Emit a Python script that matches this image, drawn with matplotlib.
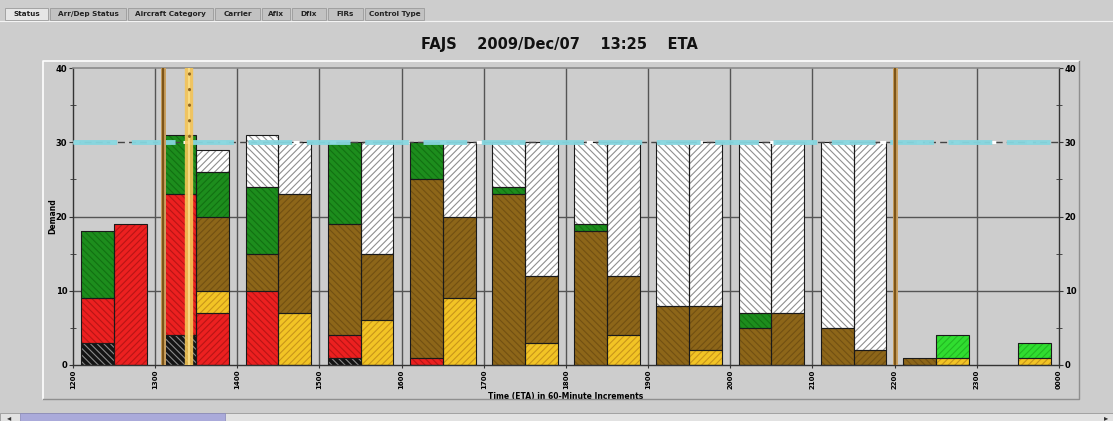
import matplotlib
matplotlib.use("Agg")
import matplotlib.pyplot as plt
from matplotlib.patches import Rectangle
from matplotlib.lines import Line2D
import numpy as np

plt.rcParams['font.family'] = ['DejaVu Sans']
plt.rcParams['hatch.linewidth'] = 0.8

# ---------------- data ----------------
hours = list(range(12, 24))
hour_labels = ["1200", "1300", "1400", "1500", "1600", "1700", "1800",
               "1900", "2000", "2100", "2200", "2300", "0000"]

# first bar of each hour (A) — stacked layers bottom to top
black_a  = [3, 4, 0, 1, 0, 0, 0, 0, 0, 0, 0, 0]
red_a    = [6, 19, 10, 3, 1, 0, 0, 0, 0, 0, 0, 0]
yellow_a = [0, 0, 0, 0, 0, 0, 0, 0, 0, 0, 0, 0]
brown_a  = [0, 0, 5, 15, 24, 23, 18, 8, 5, 5, 1, 0]
green_a  = [9, 8, 9, 11, 5, 1, 1, 0, 2, 0, 0, 0]
lgreen_a = [0, 0, 0, 0, 0, 0, 0, 0, 0, 0, 0, 0]
white_a  = [0, 0, 7, 0, 0, 6, 11, 22, 23, 25, 0, 0]

# second bar of each hour (B)
black_b  = [0, 0, 0, 0, 0, 0, 0, 0, 0, 0, 0, 0]
red_b    = [19, 7, 0, 0, 0, 0, 0, 0, 0, 0, 0, 0]
yellow_b = [0, 3, 7, 6, 9, 3, 4, 2, 0, 0, 1, 1]
brown_b  = [0, 10, 16, 9, 11, 9, 8, 6, 7, 2, 0, 0]
green_b  = [0, 6, 0, 0, 0, 0, 0, 0, 0, 0, 0, 0]
lgreen_b = [0, 0, 0, 0, 0, 0, 0, 0, 0, 0, 3, 2]
white_b  = [0, 3, 7, 15, 10, 18, 18, 22, 23, 28, 0, 0]

capacity = 30
current_time = 13 + 25 / 60
marker_lines = [13 + 6 / 60, 22.0]

title_text = "FAJS    2009/Dec/07    13:25    ETA"
tabs = ["Status", "Arr/Dep Status", "Aircraft Category", "Carrier",
        "Afix", "Dfix", "FIRs", "Control Type"]

# ---------------- style ----------------
layers = [
    ("black",  '#141414', '#8a8a8a'),
    ("red",    '#ec2020', '#b81515'),
    ("yellow", '#f2c425', '#c8951a'),
    ("brown",  '#8d6619', '#725012'),
    ("green",  '#1d8d1d', '#127012'),
    ("lgreen", '#30dd30', '#22b822'),
    ("white",  '#ffffff', '#8f8f8f'),
]
data_a = [black_a, red_a, yellow_a, brown_a, green_a, lgreen_a, white_a]
data_b = [black_b, red_b, yellow_b, brown_b, green_b, lgreen_b, white_b]

W, H = 1113, 421
fig = plt.figure(figsize=(W / 100, H / 100), dpi=100)
bg = '#cdcdcd'
fig.patch.set_facecolor(bg)

def fx(px):
    return px / W

def fy(py):
    return 1 - py / H

# tabs
tab_edges = [5, 50, 128, 215, 262, 292, 328, 365, 426]
for i, t in enumerate(tabs):
    x0, x1 = tab_edges[i], tab_edges[i + 1] - 2
    fc = '#e6e6e6' if i == 0 else '#c2c2c2'
    fig.patches.append(Rectangle((fx(x0), fy(20)), fx(x1 - x0), fy(8) - fy(20),
                                 transform=fig.transFigure, facecolor=fc,
                                 edgecolor='#9a9a9a', lw=0.6))
    fig.text(fx((x0 + x1) / 2), fy(14), t, ha='center', va='center',
             fontsize=5.2, fontweight='bold', color='#222222')
fig.lines.append(Line2D([fx(0), fx(W)], [fy(20.5), fy(20.5)],
                        transform=fig.transFigure, color='#f4f4f4', lw=0.8))

# panel border
fig.lines.append(Line2D([fx(43), fx(43), fx(1079)], [fy(399), fy(61), fy(61)],
                        transform=fig.transFigure, color='#ffffff', lw=1.2))
fig.lines.append(Line2D([fx(43), fx(1079), fx(1079)], [fy(399), fy(399), fy(61)],
                        transform=fig.transFigure, color='#8f8f8f', lw=1.0))

# title
fig.text(0.503, fy(44), title_text, ha='center', va='center',
         fontsize=10.5, fontweight='bold', color='#111111')

# scrollbar
fig.patches.append(Rectangle((0, 0), 1, fy(413), transform=fig.transFigure,
                             facecolor='#e2e2e2', edgecolor='#9a9a9a', lw=0.6))
fig.patches.append(Rectangle((fx(20), 0), fx(205), fy(413), transform=fig.transFigure,
                             facecolor='#aaaada', edgecolor='#8888b8', lw=0.5))
fig.text(fx(9), fy(418), "\u25c2", ha='center', va='center', fontsize=6, color='#333')
fig.text(fx(1106), fy(418), "\u25b8", ha='center', va='center', fontsize=6, color='#333')

# axes
ax = fig.add_axes([fx(73), fy(365), fx(1059) - fx(73), fy(68) - fy(365)])
ax.set_facecolor(bg)
ax.set_xlim(12, 24)
ax.set_ylim(0, 40)

# grid lines
for h in range(13, 24):
    ax.axvline(h, color='#555555', lw=1.0, zorder=1)
for yv in (10, 20):
    ax.axhline(yv, color='#555555', lw=1.0, zorder=1)

x = np.array(hours, dtype=float)
bw = 0.4
for data, offset, hatch in ((data_a, 0.1, '\\\\\\\\\\'), (data_b, 0.5, '/////')):
    bottom = np.zeros(len(hours))
    for (name, fc, hc), vals in zip(layers, data):
        v = np.array(vals, dtype=float)
        m = v > 0
        if m.any():
            ax.bar(x[m] + offset, v[m], width=bw, bottom=bottom[m], align='edge',
                   color=fc, edgecolor=hc, lw=0, hatch=hatch, zorder=2)
            ax.bar(x[m] + offset, v[m], width=bw, bottom=bottom[m], align='edge',
                   fill=False, edgecolor='#1a1a1a', lw=0.8, zorder=3)
        bottom += v

# capacity line
ax.axhline(capacity, color='#444444', lw=1.0, zorder=4, dashes=(5, 3))
ax.axhline(capacity, color='#ffffff', lw=2.2, zorder=4, dashes=(2, 10), dash_joinstyle='miter')
ax.axhline(capacity, color='#86d6df', lw=3.5, zorder=5, dashes=(9, 3), alpha=0.95)

# marker lines
for t in marker_lines:
    ax.axvline(t, color='#c9a060', lw=3.6, zorder=6)
    ax.axvline(t, color='#7d5518', lw=1.6, zorder=7)
ax.axvline(current_time, color='#f3c455', lw=6, zorder=6, alpha=0.9)
ax.axvline(current_time, color='#fbe08a', lw=1.2, zorder=7)
ax.axvline(current_time, color='#8d6420', lw=2.2, zorder=8, dashes=(0.1, 5),
           dash_capstyle='round', ymin=0.77)

# ticks and spines
for s in ('left', 'right', 'bottom'):
    ax.spines[s].set_color('#333333')
    ax.spines[s].set_linewidth(1.0)
ax.spines['top'].set_color('#8a8a8a')
ax.spines['top'].set_linewidth(1.2)

ax.set_xticks(list(range(12, 25)))
ax.set_xticklabels(hour_labels, rotation=90, fontsize=5, fontweight='bold')
ax.set_yticks([0, 10, 20, 30, 40])
ax.set_yticks([5, 15, 25, 35], minor=True)
ax.tick_params(axis='y', which='major', labelsize=6, length=3, direction='out',
               left=True, right=True, labelleft=True, labelright=True, pad=1,
               color='#333333')
ax.tick_params(axis='y', which='minor', length=4, direction='inout',
               left=True, right=True, color='#333333')
ax.tick_params(axis='x', which='major', length=2, direction='out', pad=1.5,
               color='#333333')
for lab in ax.get_yticklabels():
    lab.set_fontweight('bold')

ax.set_xlabel("Time (ETA) in 60-Minute Increments", fontsize=5.5,
              fontweight='bold')
ax.xaxis.set_label_coords(0.5, -(396 - 365) / (365 - 68), transform=ax.transAxes)
ax.xaxis.label.set_va('center')
ax.set_ylabel("Demand", fontsize=5.5, fontweight='bold')
ax.yaxis.set_label_coords(-(73 - 53) / (1059 - 73), 0.5, transform=ax.transAxes)
ax.yaxis.label.set_va('center')

fig.savefig("out.png", dpi=100, facecolor=fig.get_facecolor())
